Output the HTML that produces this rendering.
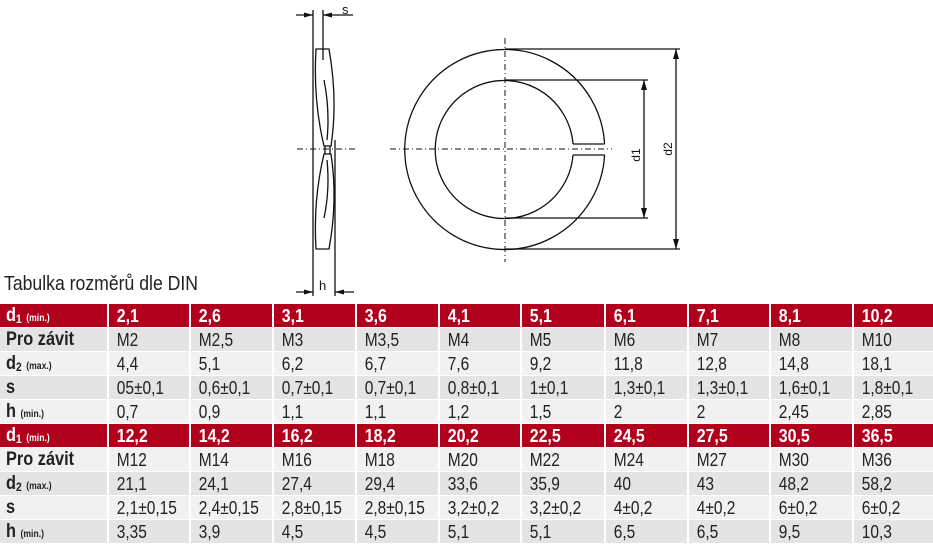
<!DOCTYPE html>
<html><head><meta charset="utf-8"><style>
body{margin:0;width:933px;height:544px;background:#fff;position:relative;overflow:hidden;font-family:"Liberation Sans",sans-serif;}
.t{position:absolute;left:4px;top:272px;font-size:20.5px;color:#222;transform:scaleX(0.86);transform-origin:left;white-space:nowrap;}
.r{position:absolute;left:0;width:933px;height:23px;}
.c{position:absolute;top:0;height:23px;line-height:24px;font-size:18px;color:#222;white-space:nowrap;}
.c span{display:inline-block;transform:scaleX(0.86);transform-origin:left;padding-left:9px;}
.h .c{background:#b0001c;color:#fff;font-weight:bold;font-size:18.5px;}
.g .c{background:#e4e4e4;}
.l .c{background:#f1f1f1;}
.c.f{font-weight:bold;font-size:19px;}
small{font-size:10px;font-weight:bold;}
sub{font-size:12px;line-height:0;vertical-align:-2px;}
</style></head><body>
<svg width="933" height="300" style="position:absolute;left:0;top:0" fill="none" stroke="#111" stroke-width="1.3">
<g stroke-dasharray="6 3 1 3" stroke-width="1">
<line x1="297" y1="149" x2="358" y2="149"/>
<line x1="390" y1="149" x2="612" y2="149"/>
<line x1="505" y1="38" x2="505" y2="262"/>
</g>
<path d="M604.6 144 A100 100 0 1 0 604.6 155"/>
<path d="M573 144 A69 69 0 1 0 573 155"/>
<line x1="573" y1="144" x2="604.6" y2="144"/>
<line x1="573" y1="155" x2="604.6" y2="155"/>
<line x1="505" y1="49" x2="680" y2="49"/>
<line x1="505" y1="249" x2="680" y2="249"/>
<line x1="505" y1="80" x2="648" y2="80"/>
<line x1="505" y1="218" x2="648" y2="218"/>
<line x1="644" y1="80" x2="644" y2="218"/>
<line x1="676" y1="49" x2="676" y2="249"/>
<g fill="#111" stroke="none">
<path d="M644 80 l-3 10 h6z"/><path d="M644 218 l-3 -10 h6z"/>
<path d="M676 49 l-3 10 h6z"/><path d="M676 249 l-3 -10 h6z"/>
<path d="M313 15 l-9 -2.5 v5z"/><path d="M323 15 l9 -2.5 v5z"/>
<path d="M313 292 l-9 -2.5 v5z"/><path d="M335 292 l9 -2.5 v5z"/>
</g>
<text x="640" y="155" transform="rotate(-90 640 155)" font-family="Liberation Sans" font-size="12" fill="#111" stroke="none" text-anchor="middle">d1</text>
<text x="672" y="149" transform="rotate(-90 672 149)" font-family="Liberation Sans" font-size="12" fill="#111" stroke="none" text-anchor="middle">d2</text>
<text x="342" y="14" font-family="Liberation Sans" font-size="13" fill="#111" stroke="none">s</text>
<text x="319" y="290" font-family="Liberation Sans" font-size="13" fill="#111" stroke="none">h</text>
<line x1="313" y1="10" x2="313" y2="296"/>
<line x1="323" y1="10" x2="323" y2="60"/>
<line x1="335" y1="140" x2="335" y2="296"/>
<line x1="296" y1="15" x2="313" y2="15"/><line x1="323" y1="15" x2="353" y2="15"/>
<line x1="296" y1="292" x2="313" y2="292"/><line x1="335" y1="292" x2="354" y2="292"/>
<path d="M316 49 H329 Q338 100 331 146 H324 Q313 100 316 49Z"/>
<path d="M316 249 H329 Q338 200 331 154 H324 Q313 200 316 249Z"/>
<path d="M324 80 Q330 110 327 140"/><path d="M324 218 Q330 190 327 160"/>
<line x1="325" y1="146" x2="325" y2="154"/><line x1="330" y1="146" x2="330" y2="154"/>
</svg>
<div class="t">Tabulka rozměrů dle DIN</div>
<div id="tb"></div>
<script>
var X=[0,109,191,274,357,440,522,606,689,771,854,933];
var rows=[
["h","d<sub>1</sub> <small>(min.)</small>","2,1","2,6","3,1","3,6","4,1","5,1","6,1","7,1","8,1","10,2"],
["g","Pro závit","M2","M2,5","M3","M3,5","M4","M5","M6","M7","M8","M10"],
["l","d<sub>2</sub> <small>(max.)</small>","4,4","5,1","6,2","6,7","7,6","9,2","11,8","12,8","14,8","18,1"],
["g","s","05±0,1","0,6±0,1","0,7±0,1","0,7±0,1","0,8±0,1","1±0,1","1,3±0,1","1,3±0,1","1,6±0,1","1,8±0,1"],
["l","h <small>(min.)</small>","0,7","0,9","1,1","1,1","1,2","1,5","2","2","2,45","2,85"],
["h","d<sub>1</sub> <small>(min.)</small>","12,2","14,2","16,2","18,2","20,2","22,5","24,5","27,5","30,5","36,5"],
["l","Pro závit","M12","M14","M16","M18","M20","M22","M24","M27","M30","M36"],
["g","d<sub>2</sub> <small>(max.)</small>","21,1","24,1","27,4","29,4","33,6","35,9","40","43","48,2","58,2"],
["l","s","2,1±0,15","2,4±0,15","2,8±0,15","2,8±0,15","3,2±0,2","3,2±0,2","4±0,2","4±0,2","6±0,2","6±0,2"],
["g","h <small>(min.)</small>","3,35","3,9","4,5","4,5","5,1","5,1","6,5","6,5","9,5","10,3"]];
var h="";
rows.forEach(function(r,i){
 h+='<div class="r '+r[0]+'" style="top:'+(304+i*24)+'px">';
 for(var j=1;j<r.length;j++){
  var x=X[j-1],w=X[j]-x-(j<11?2:0);
  h+='<div class="c'+(j==1?' f':'')+'" style="left:'+x+'px;width:'+w+'px"><span'+(j==1?' style="padding-left:7px"':'')+'>'+r[j]+'</span></div>';
 }
 h+='</div>';
});
document.getElementById("tb").innerHTML=h;
</script>
</body></html>
